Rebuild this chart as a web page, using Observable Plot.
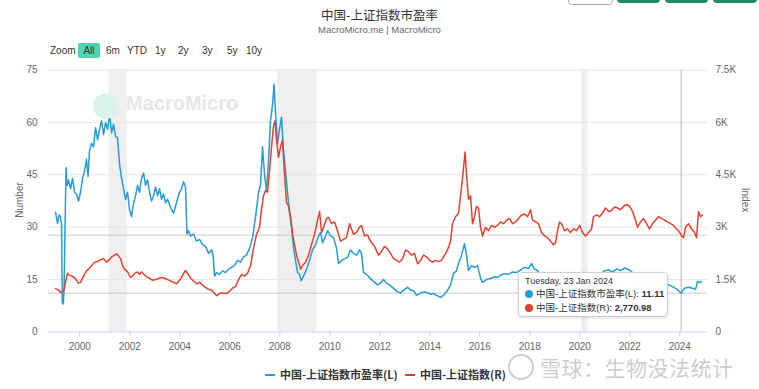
<!DOCTYPE html>
<html><head><meta charset="utf-8">
<script src="https://cdn.jsdelivr.net/npm/d3@7"></script>
<script src="https://cdn.jsdelivr.net/npm/@observablehq/plot@0.6"></script>
<style>
body{margin:0;background:#fff;font-family:"Liberation Sans",Arial,"Noto Sans CJK SC",sans-serif;}
#wrap{position:relative;width:759px;height:389px;overflow:hidden;background:#fff;}
.abs{position:absolute;white-space:nowrap;}
#title{left:0;width:759px;top:5px;text-align:center;font-size:12.5px;color:#333;font-family:"Noto Sans CJK SC","Liberation Sans",sans-serif;}
#subtitle{left:0;width:759px;top:24px;text-align:center;font-size:9.5px;color:#666;}
.zb{top:45px;font-size:10px;color:#333;}
#allbtn{left:78px;top:43px;width:22px;height:15px;background:#4fd3b0;border-radius:2px;font-size:10px;line-height:15px;text-align:center;color:#333;}
.tb{top:-24px;height:27px;border-radius:4px;}
#chart{left:0;top:60px;}
.axt{font-size:10px;color:#666;}
#tip{left:518px;top:272px;width:148px;height:43px;background:rgba(255,255,255,0.96);border:1px solid #cfcfcf;border-radius:4px;box-shadow:0 1px 3px rgba(0,0,0,0.15);}
#tip div{position:absolute;left:6px;white-space:nowrap;color:#333;line-height:12px;height:12px;}
.dot{display:inline-block;width:8px;height:8px;border-radius:50%;margin-right:3px;vertical-align:-1px;}
.leg{top:366px;font-size:11px;font-weight:bold;color:#333;font-family:"Noto Sans CJK SC","Liberation Sans",sans-serif;}
.legline{display:inline-block;width:10px;height:2px;vertical-align:3px;margin-right:5px;}
#wm{left:508px;top:352px;font-size:21px;color:#cdcdcd;font-family:"Noto Sans CJK SC",sans-serif;letter-spacing:0.5px;}
#wmlogo{left:508px;top:354px;width:22px;height:22px;border:2px solid #cdcdcd;border-radius:50%;}
#mm{left:126px;top:92px;font-size:20px;font-weight:bold;color:#e6e6e6;}
#mmlogo{left:93px;top:93px;width:26px;height:26px;border-radius:50%;background:#daf3eb;}
</style></head>
<body><div id="wrap">
<div class="abs tb" style="left:568px;width:43px;border:1px solid #aaa;background:#fff;"></div>
<div class="abs tb" style="left:617px;width:43px;background:#1e8a68;"></div>
<div class="abs tb" style="left:665px;width:43px;background:#1e8a68;"></div>
<div class="abs tb" style="left:713px;width:44px;background:#1e8a68;"></div>
<div id="title" class="abs">中国-上证指数市盈率</div>
<div id="subtitle" class="abs">MacroMicro.me | MacroMicro</div>
<div class="abs zb" style="left:50px">Zoom</div>
<div id="allbtn" class="abs">All</div>
<div class="abs zb" style="left:106px">6m</div>
<div class="abs zb" style="left:127px">YTD</div>
<div class="abs zb" style="left:155px">1y</div>
<div class="abs zb" style="left:178px">2y</div>
<div class="abs zb" style="left:202px">3y</div>
<div class="abs zb" style="left:227px">5y</div>
<div class="abs zb" style="left:246px">10y</div>
<div id="chart" class="abs"></div>
<div id="mmlogo" class="abs"></div>
<div id="mm" class="abs">MacroMicro</div>
<div class="abs axt" style="left:1px;top:193px;width:40px;text-align:center;transform:rotate(-90deg);transform-origin:20px 7px;">Number</div>
<div class="abs axt" style="left:724px;top:193px;width:40px;text-align:center;transform:rotate(90deg);transform-origin:20px 7px;">Index</div>
<div id="tip" class="abs">
  <div style="top:2px;font-size:9px;">Tuesday, 23 Jan 2024</div>
  <div style="top:15px;font-size:9.5px;"><span class="dot" style="background:#2a9ad4"></span>中国-上证指数市盈率(L): <b>11.11</b></div>
  <div style="top:29px;font-size:9.5px;"><span class="dot" style="background:#e3412f"></span>中国-上证指数(R): <b>2,770.98</b></div>
</div>
<div class="abs leg" style="left:265px"><span class="legline" style="background:#2a9ad4"></span>中国-上证指数市盈率(L)</div>
<div class="abs leg" style="left:405px"><span class="legline" style="background:#e3412f"></span>中国-上证指数(R)</div>
<div id="wmlogo" class="abs"></div>
<div id="wm" class="abs"><span style="display:inline-block;width:32px"></span>雪球：生物没法统计</div>
</div>
<script>
const peYears = [1999.03,1999.11,1999.17,1999.23,1999.27,1999.30,1999.34,1999.37,1999.41,1999.45,1999.49,1999.55,1999.63,1999.71,1999.79,1999.87,1999.95,2000.03,2000.11,2000.19,2000.27,2000.33,2000.39,2000.47,2000.55,2000.63,2000.71,2000.79,2000.87,2000.95,2001.03,2001.11,2001.19,2001.27,2001.35,2001.43,2001.51,2001.59,2001.67,2001.75,2001.83,2001.91,2001.99,2002.07,2002.15,2002.23,2002.31,2002.39,2002.47,2002.55,2002.63,2002.71,2002.79,2002.87,2002.95,2003.03,2003.11,2003.19,2003.27,2003.35,2003.43,2003.51,2003.59,2003.67,2003.75,2003.83,2003.91,2003.99,2004.07,2004.15,2004.23,2004.29,2004.35,2004.43,2004.55,2004.67,2004.79,2004.91,2005.03,2005.15,2005.27,2005.33,2005.39,2005.47,2005.59,2005.71,2005.83,2005.95,2006.07,2006.19,2006.31,2006.43,2006.55,2006.67,2006.79,2006.91,2007.03,2007.15,2007.23,2007.31,2007.39,2007.47,2007.55,2007.63,2007.71,2007.77,2007.83,2007.91,2007.99,2008.07,2008.15,2008.23,2008.31,2008.39,2008.47,2008.55,2008.63,2008.71,2008.79,2008.85,2008.95,2009.07,2009.19,2009.31,2009.43,2009.55,2009.63,2009.71,2009.83,2009.91,2010.03,2010.15,2010.27,2010.35,2010.47,2010.59,2010.71,2010.83,2010.95,2011.07,2011.19,2011.27,2011.35,2011.47,2011.59,2011.75,2011.91,2012.03,2012.15,2012.27,2012.39,2012.55,2012.71,2012.83,2012.95,2013.11,2013.23,2013.35,2013.47,2013.63,2013.79,2013.91,2014.03,2014.15,2014.27,2014.43,2014.55,2014.71,2014.83,2014.95,2015.07,2015.15,2015.27,2015.39,2015.47,2015.55,2015.67,2015.79,2015.91,2016.03,2016.11,2016.27,2016.43,2016.59,2016.71,2016.83,2016.99,2017.15,2017.31,2017.47,2017.63,2017.79,2017.95,2018.07,2018.19,2018.31,2018.47,2018.63,2018.79,2018.95,2019.11,2019.27,2019.43,2019.59,2019.75,2019.91,2020.07,2020.19,2020.35,2020.51,2020.67,2020.83,2020.99,2021.15,2021.31,2021.47,2021.63,2021.79,2021.95,2022.11,2022.27,2022.43,2022.59,2022.75,2022.91,2023.07,2023.23,2023.39,2023.55,2023.71,2023.87,2024.06,2024.19,2024.35,2024.51,2024.63,2024.71,2024.79,2024.87];
const peValues = [34.3,31,33.5,33,30.5,8.5,8,12,30,47,42,43.5,41,44,40,39.5,37.5,40,44,46,49.5,44.5,52,54,53,58.5,55,58,60.5,56.5,60,58,62.5,57,59.5,56,55.5,48,44,41,38,40,35,33,37,39,42,40,44,45.5,42,43.5,40,37.5,39,41.5,39,41,38,39.5,37,38,36.5,35,34,36,38,40,41,43,41.5,28,29,27.5,28,26,26.5,25,24.5,22.5,23.5,22,16,17,16.5,17.5,17,18,18.5,19,20.5,20,21.5,22,24,27,33,40,42,53,45,40.5,49,60.5,65,71,63,54,58,61.5,52,46,40,34,30,24,20.5,17,16.5,14.7,16,18,20.5,23.5,25,27.5,28.5,25.5,27.5,29,27.5,27,24,19.6,20.5,21,21.3,23.5,22.5,22,23.5,22.5,17,16.5,15.5,14.5,13.5,14,15,14,13.5,12.5,11.5,11.2,12,12.8,12,11.8,10.5,11.2,11.5,11.2,10.8,11,10.5,9.9,10.5,11.9,13.5,16.8,17.5,19.6,22,25.3,22,17.6,19,18.5,19,15.5,14.2,15,15.3,15.8,15.6,16.3,16.7,16.5,17.2,17,17.8,18.5,18.2,19.6,18,17.6,15.5,13.8,12.5,11.6,13.5,14.8,13.5,13.8,13.3,14,13.8,12,13,15.5,16,16.5,17.5,17.8,17.2,18,17.6,18.3,17.9,17,14,14.8,14.3,12.8,13.3,14,14.2,13.8,13.5,13,12.3,11.11,12.5,12.8,12.5,12.2,14.5,14.1,14.4];

const idxYears = [1999.03,1999.15,1999.23,1999.31,1999.37,1999.43,1999.51,1999.59,1999.71,1999.83,1999.95,2000.03,2000.15,2000.27,2000.35,2000.47,2000.59,2000.71,2000.83,2000.95,2001.07,2001.15,2001.27,2001.39,2001.47,2001.55,2001.63,2001.71,2001.79,2001.91,2002.03,2002.11,2002.19,2002.31,2002.39,2002.47,2002.55,2002.67,2002.79,2002.91,2003.03,2003.15,2003.27,2003.39,2003.51,2003.63,2003.75,2003.87,2003.99,2004.11,2004.23,2004.31,2004.43,2004.55,2004.67,2004.79,2004.91,2005.03,2005.15,2005.27,2005.39,2005.47,2005.55,2005.63,2005.75,2005.87,2005.99,2006.11,2006.23,2006.35,2006.47,2006.59,2006.71,2006.83,2006.95,2007.07,2007.19,2007.27,2007.35,2007.43,2007.51,2007.59,2007.67,2007.75,2007.81,2007.87,2007.95,2008.03,2008.11,2008.19,2008.27,2008.35,2008.43,2008.51,2008.59,2008.67,2008.75,2008.83,2008.91,2009.03,2009.15,2009.27,2009.39,2009.51,2009.59,2009.67,2009.75,2009.87,2009.95,2010.07,2010.19,2010.31,2010.43,2010.55,2010.67,2010.79,2010.87,2010.95,2011.07,2011.19,2011.27,2011.39,2011.51,2011.63,2011.79,2011.95,2012.07,2012.19,2012.31,2012.43,2012.55,2012.67,2012.79,2012.91,2013.03,2013.15,2013.27,2013.39,2013.51,2013.63,2013.75,2013.87,2014.00,2014.11,2014.23,2014.35,2014.47,2014.59,2014.71,2014.83,2014.91,2015.03,2015.15,2015.23,2015.31,2015.41,2015.47,2015.55,2015.63,2015.71,2015.79,2015.87,2015.95,2016.03,2016.11,2016.23,2016.35,2016.47,2016.59,2016.71,2016.83,2016.95,2017.07,2017.19,2017.31,2017.43,2017.55,2017.67,2017.79,2017.91,2018.03,2018.11,2018.23,2018.35,2018.47,2018.59,2018.71,2018.83,2018.95,2019.03,2019.11,2019.19,2019.27,2019.39,2019.51,2019.63,2019.75,2019.87,2020.00,2020.11,2020.23,2020.35,2020.47,2020.55,2020.67,2020.79,2020.91,2021.03,2021.15,2021.27,2021.39,2021.51,2021.63,2021.75,2021.87,2021.99,2022.11,2022.23,2022.31,2022.43,2022.55,2022.67,2022.79,2022.91,2023.03,2023.15,2023.27,2023.39,2023.51,2023.63,2023.75,2023.87,2023.95,2024.06,2024.15,2024.23,2024.35,2024.47,2024.59,2024.67,2024.75,2024.83,2024.91];
const idxValues = [1240,1200,1130,1160,1190,1450,1680,1620,1600,1520,1400,1420,1600,1750,1800,1900,2000,2020,2070,2100,2000,2050,2150,2200,2240,2180,2100,1900,1800,1720,1560,1600,1680,1720,1650,1720,1660,1580,1540,1480,1500,1530,1560,1540,1500,1460,1420,1380,1480,1620,1760,1680,1540,1460,1380,1420,1340,1280,1220,1200,1100,1040,1080,1120,1110,1100,1160,1260,1300,1500,1650,1600,1680,1900,2400,2800,3000,3500,3900,4050,4000,4600,5300,5900,6050,5500,5000,5300,5500,4500,3700,3600,3300,2800,2500,2200,2000,1800,1900,2000,2200,2500,2800,3200,3450,2850,3000,3250,3280,3100,3150,2900,2600,2650,2700,3100,2950,2800,2850,3000,3050,2750,2780,2600,2450,2200,2300,2450,2380,2250,2100,2050,2000,2100,2350,2300,2200,2250,1950,2050,2200,2150,2050,2000,2050,2020,2050,2200,2350,2600,3100,3300,3400,3900,4400,5150,4500,3800,3900,3100,3300,3600,3550,3000,2750,3000,2900,3050,3000,3050,3150,3100,3200,3250,3100,3150,3250,3350,3380,3300,3500,3200,3150,3100,2850,2750,2700,2600,2500,2550,2900,3150,3100,2900,2950,2850,2950,2900,3050,2850,2750,2850,2950,3300,3350,3300,3400,3550,3450,3480,3580,3550,3500,3600,3650,3600,3450,3200,3000,3150,3250,3100,2950,3100,3200,3300,3250,3200,3150,3100,3050,2950,2900,2770.98,2700,3000,3100,2950,2850,2700,3450,3300,3350];

const recessionStarts = ["2001-03-01","2007-12-01","2020-02-01"];
const recessionEnds = ["2001-11-30","2009-06-30","2020-04-30"];
const leftTicks = [0,15,30,45,60,75];
const rightTickLabels = ["0","1.5K","3K","4.5K","6K","7.5K"];
const hoverDate = "2024-01-23";
const hoverPE = 11.11;
const hoverIdx = 2770.98;

const blue = "#2a9ad4", red = "#e3412f";
function dy(v){const y=Math.floor(v);const s=Date.UTC(y,0,1),e=Date.UTC(y+1,0,1);return new Date(s+(v-y)*(e-s));}
const pe = peYears.map((y,i)=>({date:dy(y), v:peValues[i]}));
const idx = idxYears.map((y,i)=>({date:dy(y), v:idxValues[i]/100}));
const rec = recessionStarts.map((s,i)=>({start:new Date(s), end:new Date(recessionEnds[i])}));

const chart = Plot.plot({
  width:759, height:300,
  marginTop:9.5, marginBottom:28.5, marginLeft:48, marginRight:52,
  x:{type:"utc", domain:[dy(1998.748), dy(2025.108)]},
  y:{domain:[0,75]},
  style:{fontFamily:"'Liberation Sans',Arial,sans-serif", fontSize:"10px", color:"#666", background:"transparent", overflow:"visible"},
  marks:[
    Plot.rect(rec,{x1:"start", x2:"end", fill:"#efefef"}),
    Plot.ruleY(leftTicks.slice(1),{stroke:"#e6e6e6", strokeWidth:1}),
    Plot.ruleY([hoverPE, hoverIdx/100],{stroke:"#cccccc", strokeWidth:1}),
    Plot.ruleX([new Date(hoverDate)],{stroke:"#cccccc", strokeWidth:1.5}),
    Plot.ruleY([0],{stroke:"#ccd6eb"}),
    Plot.axisX({ticks:d3.utcYear.every(2), tickFormat:"%Y", tickSize:5, tickPadding:6, stroke:"#ccd6eb", fill:"#666", label:null}),
    Plot.axisY({anchor:"left", ticks:leftTicks, tickSize:0, tickPadding:11, label:null, fill:"#666"}),
    Plot.axisY({anchor:"right", ticks:leftTicks, tickFormat:(d)=>rightTickLabels[leftTicks.indexOf(d)], tickSize:0, tickPadding:8, label:null, fill:"#666"}),
    Plot.lineY(pe,{x:"date", y:"v", stroke:blue, strokeWidth:1.5}),
    Plot.lineY(idx,{x:"date", y:"v", stroke:red, strokeWidth:1.5})
  ]
});
document.getElementById("chart").appendChild(chart);
</script>
</body></html>
